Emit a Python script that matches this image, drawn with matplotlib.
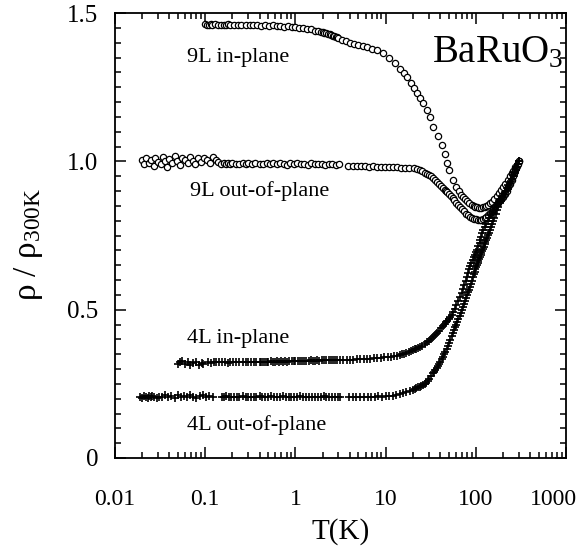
import matplotlib
matplotlib.use('Agg')
import matplotlib.pyplot as plt
import matplotlib.transforms as mtransforms
from matplotlib.ticker import FixedLocator, LogLocator, MultipleLocator, NullFormatter, FixedFormatter

plt.rcParams['font.family'] = ['Liberation Serif', 'DejaVu Serif']
plt.rcParams['mathtext.fontset'] = 'custom'
plt.rcParams['mathtext.rm'] = 'Liberation Serif'
plt.rcParams['mathtext.it'] = 'Liberation Serif:italic'

# ---------------- data ----------------
T_9L_in = [0.10, 0.105, 0.11, 0.115, 0.12, 0.13, 0.14, 0.15, 0.16, 0.17, 0.18, 0.19, 0.21, 0.23,
           0.25, 0.28, 0.31, 0.34, 0.38, 0.42, 0.46, 0.51, 0.56, 0.62, 0.68, 0.75, 0.83, 0.91,
           1.0, 1.1, 1.2, 1.35, 1.5, 1.65, 1.8, 1.9, 2.0, 2.1, 2.2, 2.3, 2.4, 2.5, 2.6, 2.7, 2.8,
           2.9, 3.0, 3.3, 3.6, 4.0, 4.5, 5.0, 5.6, 6.2, 7.0, 8.0,
           9.4, 11.0, 12.7, 14.5, 16.0, 17.3, 19.0, 20.5, 22.3, 24.0, 26.0, 28.8, 31.0, 33.5,
           38.1, 42.2, 45.0, 48.0, 51.0, 55.8, 60.0, 65.0, 69.0, 72.0, 76.0, 80.0, 85.0, 90.0,
           95.0, 98.0, 103, 108, 115, 120, 125, 130, 135, 144, 150, 160, 170, 180, 190, 200,
           210, 225, 240, 250, 260, 275, 290, 300]
R_9L_in = [1.462, 1.459, 1.461, 1.463, 1.459, 1.462, 1.460, 1.461, 1.458, 1.459, 1.462, 1.461,
           1.460, 1.458, 1.460, 1.459, 1.461, 1.458, 1.460, 1.457, 1.459, 1.456, 1.458, 1.455,
           1.457, 1.454, 1.455, 1.452, 1.452, 1.449, 1.450, 1.446, 1.445, 1.441, 1.440, 1.437,
           1.435, 1.434, 1.432, 1.430, 1.428, 1.426, 1.424, 1.422, 1.420, 1.418,
           1.416, 1.410, 1.404, 1.400, 1.396, 1.392, 1.389, 1.385, 1.380, 1.374, 1.365, 1.350,
           1.331, 1.312, 1.298, 1.284, 1.265, 1.248, 1.230, 1.214, 1.196, 1.173, 1.148, 1.116,
           1.085, 1.055, 1.026, 0.994, 0.970, 0.937, 0.915, 0.899, 0.888, 0.880, 0.872, 0.866,
           0.859, 0.853, 0.849, 0.847, 0.845, 0.844, 0.843, 0.845, 0.847, 0.849, 0.853, 0.859,
           0.864, 0.872, 0.882, 0.892, 0.902, 0.913, 0.923, 0.938, 0.952, 0.961, 0.969, 0.982,
           0.994, 1.000]

T_9L_out = [0.020, 0.021, 0.022, 0.024, 0.025, 0.027, 0.028, 0.030, 0.032, 0.034, 0.036, 0.038,
            0.040, 0.043, 0.046, 0.049, 0.052, 0.056, 0.060, 0.064, 0.068, 0.073, 0.078, 0.084,
            0.090, 0.097, 0.105, 0.113, 0.122, 0.131, 0.140,
            0.15, 0.16, 0.17, 0.18, 0.19, 0.20, 0.22, 0.24, 0.26, 0.28, 0.30, 0.33, 0.36, 0.40,
            0.44, 0.48, 0.52, 0.57, 0.62, 0.68, 0.74, 0.81, 0.88, 0.96, 1.05, 1.15, 1.25, 1.37,
            1.5, 1.64, 1.8, 1.97, 2.15, 2.35, 2.57, 2.8, 3.05,
            3.85, 4.3, 4.8, 5.3, 5.9, 6.5, 7.2, 8.0, 8.9, 9.9, 11.0, 12.2, 13.5, 15.0, 16.6,
            18.4, 20.4,
            22.3, 24.0, 25.5, 27.0, 28.5, 30.0, 31.7, 33.5, 35.0, 37.0, 39.0, 41.0, 43.0, 45.0,
            46.5, 48.0, 50.5, 53.0, 55.5, 58.0, 60.5, 63.5, 66.5, 70.0, 74.0, 78.0, 82.0, 86.0,
            90.0, 95.0, 100, 106, 110, 115, 120, 125, 130, 136, 143, 150, 157, 165, 175, 185,
            192, 200, 210, 220, 230, 240, 250, 258, 266, 274, 280, 287, 293, 300]
R_9L_out = [1.003, 0.992, 1.010, 0.995, 1.005, 0.985, 1.012, 0.998, 0.990, 1.015, 1.002, 0.982,
            1.008, 0.995, 1.018, 1.000, 0.988, 1.012, 1.005, 0.993, 1.015, 1.002, 0.990, 1.010,
            0.998, 1.012, 1.003, 0.996, 1.013, 1.005, 0.998,
            0.992, 0.994, 0.990, 0.993, 0.991, 0.995, 0.992, 0.990, 0.994, 0.991, 0.993, 0.990,
            0.995, 0.992, 0.990, 0.994, 0.991, 0.993, 0.990, 0.994, 0.992, 0.989, 0.993, 0.991,
            0.994, 0.990, 0.992, 0.989, 0.993, 0.991, 0.990, 0.992, 0.989, 0.991, 0.990, 0.988,
            0.990,
            0.985, 0.984, 0.985, 0.983, 0.984, 0.982, 0.983, 0.982, 0.982, 0.981, 0.981, 0.980,
            0.980, 0.979, 0.978, 0.977, 0.976,
            0.975, 0.971, 0.967, 0.962, 0.958, 0.953, 0.949, 0.944, 0.937, 0.930, 0.924, 0.917,
            0.911, 0.905, 0.901, 0.897, 0.890, 0.882, 0.875, 0.868, 0.861, 0.853, 0.846, 0.838,
            0.831, 0.824, 0.818, 0.812, 0.809, 0.806, 0.804, 0.802, 0.802, 0.803, 0.806, 0.809,
            0.814, 0.819, 0.826, 0.834, 0.841, 0.849, 0.859, 0.868, 0.874, 0.880, 0.890, 0.900,
            0.912, 0.925, 0.938, 0.950, 0.960, 0.970, 0.976, 0.985, 0.992, 1.000]

T_4L_in = [0.050, 0.053, 0.056, 0.060, 0.064, 0.068, 0.073, 0.079, 0.085, 0.091, 0.095,
           0.107, 0.115, 0.124, 0.133, 0.143, 0.154, 0.166, 0.178, 0.19, 0.205, 0.22, 0.24,
           0.26, 0.28, 0.30, 0.32, 0.345, 0.37, 0.40, 0.42, 0.44, 0.46, 0.48, 0.50, 0.53, 0.56,
           0.59, 0.62, 0.65, 0.69, 0.73, 0.77, 0.81, 0.86, 0.91, 0.96, 1.0, 1.06, 1.12, 1.18,
           1.25, 1.32, 1.4, 1.48, 1.56, 1.65, 1.75, 1.85, 1.96, 2.07, 2.2, 2.33, 2.46, 2.6, 2.75,
           2.9, 3.1, 3.4, 3.7, 4.0, 4.4, 4.8, 5.2, 5.7, 6.2, 6.8, 7.4, 8.1, 8.8, 9.6, 10.5, 11.5,
           12.5, 13.5,
           14.4, 15.2, 16.0, 17.0, 18.0, 19.0, 20.0, 21.0, 22.0, 23.0, 24.0, 25.5, 27.0, 28.5,
           30.0, 31.7, 33.5, 35.3, 37.2, 39.0, 41.0, 43.0, 45.0, 46.5, 48.0, 50.0, 51.8, 54.0,
           56.0, 58.5, 61.0, 64.0, 66.8, 69.5, 72.0, 74.5, 77.0, 79.5, 81.9, 84.5, 87.0, 89.5,
           92.0, 94.5, 97.0, 100, 103, 106.5, 110, 112.5, 115, 117.5, 120, 125, 130, 135, 140,
           145, 150, 155, 160, 165, 170, 175, 180, 187, 195, 202, 210, 220, 230, 240, 250, 260,
           270, 278, 285, 292, 300]
R_4L_in = [0.318, 0.322, 0.326, 0.317, 0.323, 0.312, 0.320, 0.325, 0.314, 0.321, 0.318,
           0.322, 0.321, 0.323, 0.322, 0.324, 0.322, 0.323, 0.321, 0.323, 0.322, 0.324, 0.322,
           0.323, 0.324, 0.322, 0.324, 0.323, 0.325, 0.323, 0.324, 0.325, 0.323, 0.325, 0.324,
           0.326, 0.324, 0.325, 0.326, 0.324, 0.326, 0.325, 0.327, 0.325, 0.326, 0.327, 0.326,
           0.327, 0.326, 0.328, 0.327, 0.327, 0.328, 0.327, 0.329, 0.328, 0.328, 0.329, 0.328,
           0.330, 0.329, 0.329, 0.330, 0.330, 0.331, 0.330, 0.331, 0.331, 0.332, 0.331, 0.332,
           0.332, 0.333, 0.333, 0.334, 0.334, 0.335, 0.336, 0.337, 0.338, 0.339, 0.340, 0.342,
           0.343, 0.345,
           0.347, 0.349, 0.352, 0.355, 0.358, 0.360, 0.363, 0.366, 0.369, 0.371, 0.374, 0.378,
           0.385, 0.390, 0.396, 0.402, 0.408, 0.414, 0.421, 0.429, 0.437, 0.444, 0.452, 0.457,
           0.463, 0.469, 0.475, 0.483, 0.492, 0.503, 0.516, 0.530, 0.543, 0.556, 0.568, 0.582,
           0.595, 0.610, 0.624, 0.637, 0.648, 0.658, 0.668, 0.676, 0.684, 0.693, 0.701, 0.713,
           0.725, 0.735, 0.745, 0.757, 0.768, 0.779, 0.790, 0.800, 0.810, 0.818, 0.825, 0.833,
           0.840, 0.847, 0.853, 0.859, 0.865, 0.873, 0.882, 0.890, 0.898, 0.909, 0.920, 0.931,
           0.942, 0.953, 0.965, 0.974, 0.982, 0.991, 1.000]

T_4L_out = [0.019, 0.020, 0.021, 0.022, 0.023, 0.024, 0.025, 0.026, 0.027, 0.029, 0.031, 0.033,
            0.036, 0.039, 0.042, 0.046, 0.050, 0.054, 0.058, 0.063, 0.068, 0.074, 0.080, 0.087,
            0.094, 0.102, 0.110, 0.122,
            0.153, 0.162, 0.172, 0.183, 0.195, 0.21, 0.225, 0.24, 0.26, 0.28, 0.30, 0.32, 0.345,
            0.37, 0.40, 0.43, 0.46, 0.50, 0.54, 0.58, 0.62, 0.67, 0.72, 0.78, 0.84, 0.90, 0.97,
            1.05, 1.13, 1.22, 1.31, 1.41, 1.52, 1.64, 1.77, 1.9, 2.05, 2.2, 2.37, 2.55, 2.75,
            2.95, 3.1,
            3.9, 4.3, 4.7, 5.2, 5.7, 6.3, 6.9, 7.6, 8.3, 9.1, 10.0, 11.0,
            12.0, 13.2, 14.4, 15.7, 17.0, 18.5, 20.0, 21.0, 22.0, 23.0, 24.0, 25.0, 26.0, 27.0,
            28.0, 29.2, 30.5, 32.0, 33.5, 34.5, 35.5, 36.7, 38.0, 39.2, 40.5, 42.0, 43.3, 44.6,
            46.0, 47.5, 49.0, 50.5, 52.0, 54.0, 55.8, 57.5, 59.0, 60.5, 62.0, 64.0, 66.0, 68.0,
            70.3, 72.0, 74.0, 76.0, 78.0, 80.0, 82.0, 84.0, 86.3, 88.0, 90.0, 92.5, 95.0, 97.0,
            99.0, 101, 103, 105, 107, 109, 111, 113, 115, 117.5, 120, 122.5, 125, 127.5, 130,
            133.5, 137, 140.5, 144, 148, 152, 156, 160, 166, 172, 178, 185, 191, 197, 203, 210,
            217, 225, 232, 240, 247, 255, 262, 270, 277, 285, 292, 300]
R_4L_out = [0.206, 0.203, 0.209, 0.205, 0.201, 0.208, 0.204, 0.210, 0.206, 0.202, 0.207, 0.204,
            0.211, 0.205, 0.208, 0.203, 0.214, 0.206, 0.209, 0.204, 0.212, 0.207, 0.203, 0.210,
            0.214, 0.206, 0.209, 0.204,
            0.207, 0.206, 0.208, 0.206, 0.207, 0.205, 0.207, 0.206, 0.208, 0.206, 0.207, 0.205,
            0.207, 0.206, 0.208, 0.206, 0.207, 0.206, 0.208, 0.205, 0.207, 0.206, 0.208, 0.206,
            0.207, 0.205, 0.207, 0.206, 0.208, 0.206, 0.207, 0.206, 0.207, 0.205, 0.207, 0.206,
            0.208, 0.206, 0.207, 0.206, 0.207, 0.206, 0.207,
            0.207, 0.206, 0.207, 0.207, 0.206, 0.207, 0.207, 0.207, 0.208, 0.207, 0.208, 0.208,
            0.209, 0.211, 0.215, 0.218, 0.222, 0.226, 0.230, 0.233, 0.236, 0.238, 0.239, 0.243,
            0.246, 0.249, 0.252, 0.258, 0.265, 0.275, 0.286, 0.291, 0.297, 0.303, 0.310, 0.317,
            0.325, 0.333, 0.340, 0.349, 0.358, 0.368, 0.378, 0.388, 0.398, 0.410, 0.421, 0.431,
            0.441, 0.450, 0.460, 0.470, 0.480, 0.490, 0.499, 0.510, 0.520, 0.530, 0.540, 0.549,
            0.558, 0.567, 0.576, 0.586, 0.597, 0.609, 0.620, 0.628, 0.636, 0.643, 0.650, 0.657,
            0.664, 0.670, 0.677, 0.684, 0.690, 0.697, 0.705, 0.712, 0.720, 0.727, 0.735, 0.743,
            0.752, 0.760, 0.768, 0.779, 0.790, 0.800, 0.810, 0.822, 0.835, 0.847, 0.859, 0.866,
            0.874, 0.882, 0.890, 0.899, 0.908, 0.916, 0.925, 0.933, 0.942, 0.951, 0.960, 0.970,
            0.980, 0.990, 1.000]

x_ticks = [0.01, 0.1, 1, 10, 100, 1000]
x_ticklabels = ['0.01', '0.1', '1', '10', '100', '1000']
y_ticks = [0, 0.5, 1.0, 1.5]
y_ticklabels = ['0', '0.5', '1.0', '1.5']

# ---------------- figure ----------------
fig = plt.figure(figsize=(5.87, 5.48), dpi=100)
ax = fig.add_axes([115/587, 1-458/548, (566-115)/587, (458-13)/548])

circ = dict(linestyle='none', marker='o', ms=4.5, mfc='white', mec='black', mew=0.9)
plus = dict(linestyle='none', marker='+', ms=5.5, color='black', mew=1.2)

ax.plot(T_9L_in, R_9L_in, **circ)
ax.plot(T_9L_out, R_9L_out, **circ)
ax.plot(T_4L_in, R_4L_in, **plus)
ax.plot(T_4L_out, R_4L_out, **plus)

ax.set_xscale('log')
ax.set_xlim(0.01, 1000)
ax.set_ylim(0, 1.5)

ax.xaxis.set_major_locator(FixedLocator(x_ticks))
ax.xaxis.set_major_formatter(FixedFormatter(x_ticklabels))
ax.xaxis.set_minor_locator(LogLocator(base=10, subs=[2, 3, 4, 5, 6, 7, 8, 9], numticks=20))
ax.xaxis.set_minor_formatter(NullFormatter())
ax.yaxis.set_major_locator(FixedLocator(y_ticks))
ax.yaxis.set_major_formatter(FixedFormatter(y_ticklabels))
ax.yaxis.set_minor_locator(MultipleLocator(0.05))

ax.tick_params(which='both', direction='in', top=True, right=True, width=1.1)
ax.tick_params(axis='y', labelsize=18)
ax.tick_params(axis='x', labelsize=17)
ax.tick_params(which='major', length=8)
ax.tick_params(which='minor', length=4.5)
ax.tick_params(axis='x', which='major', pad=22)
ax.tick_params(axis='y', which='major', pad=12)
for s in ax.spines.values():
    s.set_linewidth(1.3)

# shift the last x tick label a little to the left so that it stays inside the figure
last = ax.xaxis.get_major_ticks()[-1].label1
last.set_transform(last.get_transform() +
                   mtransforms.ScaledTranslation(-9/72, 0, fig.dpi_scale_trans))

ax.set_xlabel('T(K)', fontsize=21, labelpad=6)
ax.set_ylabel(r'ρ / ρ$_{\mathrm{300K}}$', fontsize=24)
ax.yaxis.set_label_coords(-0.155, 0.48)

ax.text(0.063, 1.335, '9L in-plane', fontsize=16)
ax.text(0.068, 0.883, '9L out-of-plane', fontsize=16)
ax.text(0.063, 0.388, '4L in-plane', fontsize=16)
ax.text(0.063, 0.094, '4L out-of-plane', fontsize=16)
ax.text(33, 1.335, r'BaRuO$_3$', fontsize=28)

fig.savefig('out.png', dpi=100)
